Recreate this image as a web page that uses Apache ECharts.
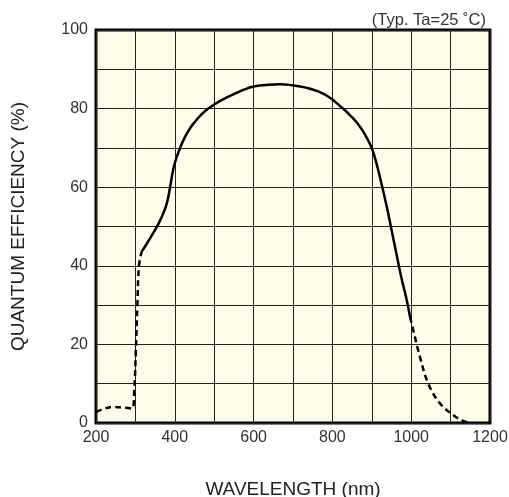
<!DOCTYPE html>
<html>
<head>
<meta charset="utf-8">
<script src="https://cdn.jsdelivr.net/npm/echarts@6/dist/echarts.min.js"></script>
<style>
  html, body { margin: 0; padding: 0; background: #fff; }
  #chart { width: 509px; height: 497px; }
</style>
</head>
<body>
<div id="chart"></div>
<script>
// wavelength (nm), quantum efficiency (%)
var leftDashed = [[200, 2.8], [220, 3.6], [245, 4.1], [270, 3.9], [292, 3.7], [297, 8], [301, 18], [305, 30], [309, 40], [316, 43.6]];
var solidPart = [[316, 43.6], [330, 45.8], [345, 48.3], [360, 51], [371, 53.4], [380, 56], [388, 60], [395, 64],
    [402, 66.8], [412, 69.6], [425, 72.6], [440, 75.2], [455, 77.1], [475, 79.2], [498, 80.9], [525, 82.5],
    [550, 83.7], [575, 84.8], [600, 85.6], [630, 86], [667, 86.2], [701, 85.9], [730, 85.4], [760, 84.5],
    [790, 83], [820, 80.6], [845, 78.3], [870, 75.4], [888, 72.4], [900, 69.9], [912, 66], [925, 60.7],
    [938, 55], [950, 49.2], [962, 43.3], [975, 37], [987, 32], [997, 27]];
var rightDashed = [[997, 27], [1005, 23.7], [1022, 16.9], [1043, 10.1], [1073, 5], [1107, 2], [1130, 0.6], [1148, 0]];
var xTicks = [200, 400, 600, 800, 1000, 1200];
var yTicks = [0, 20, 40, 60, 80, 100];

var myChart = echarts.init(document.getElementById('chart'));
var font = 'Liberation Sans, Arial, sans-serif';

var option = {
    animation: false,
    title: {
        text: '(Typ. Ta=25 \u02daC)',
        right: 18,
        top: 7,
        textStyle: { fontFamily: font, fontSize: 16.5, fontWeight: 'normal', color: '#333' }
    },
    grid: {
        left: 96, right: 19, top: 30, bottom: 74,
        outerBoundsMode: 'none',
        containLabel: false,
        show: true,
        backgroundColor: '#FEFCE9',
        borderColor: '#000',
        borderWidth: 3
    },
    xAxis: {
        type: 'value',
        min: 200, max: 1200, interval: 100,
        name: 'WAVELENGTH (nm)',
        nameLocation: 'middle',
        nameGap: 57,
        nameTextStyle: { fontFamily: font, fontSize: 19, color: '#222' },
        axisLine: { show: false },
        axisTick: { show: false },
        splitLine: { show: true, lineStyle: { color: '#222', width: 1 } },
        axisLabel: {
            fontFamily: font, fontSize: 16, color: '#333', margin: 7,
            formatter: function (v) { return xTicks.indexOf(v) >= 0 ? String(v) : ''; }
        }
    },
    yAxis: {
        type: 'value',
        min: 0, max: 100, interval: 10,
        name: 'QUANTUM EFFICIENCY (%)',
        nameLocation: 'middle',
        nameGap: 68,
        nameTextStyle: { fontFamily: font, fontSize: 19, color: '#222' },
        axisLine: { show: false },
        axisTick: { show: false },
        splitLine: { show: true, lineStyle: { color: '#222', width: 1 } },
        axisLabel: {
            fontFamily: font, fontSize: 16, color: '#333', margin: 8,
            formatter: function (v) { return yTicks.indexOf(v) >= 0 ? String(v) : ''; }
        }
    },
    series: [
        {
            type: 'line', data: leftDashed, smooth: 0.4, symbol: 'none',
            lineStyle: { color: '#000', width: 2.5, type: [6, 4] }
        },
        {
            type: 'line', data: solidPart, smooth: 0.5, symbol: 'none',
            lineStyle: { color: '#000', width: 2.5 }
        },
        {
            type: 'line', data: rightDashed, smooth: 0.4, symbol: 'none',
            lineStyle: { color: '#000', width: 2.5, type: [6, 4] }
        }
    ]
};
myChart.setOption(option);
</script>
</body>
</html>
